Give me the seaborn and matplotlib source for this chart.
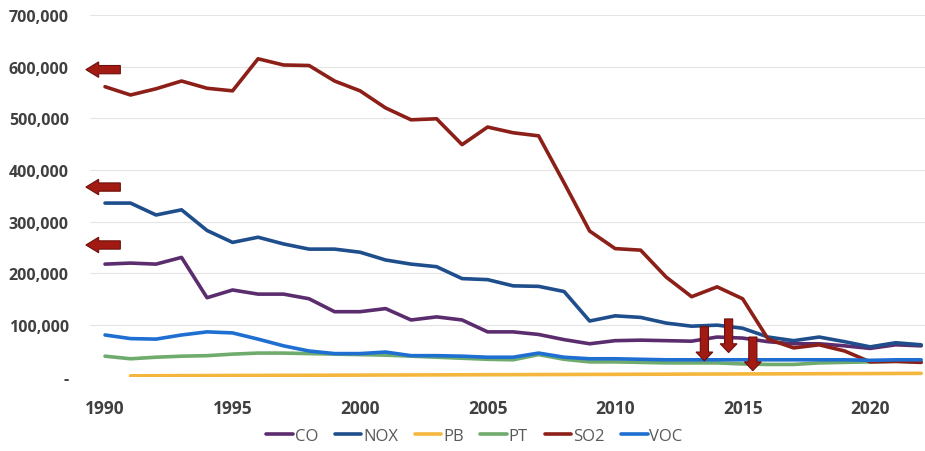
import numpy as np
import pandas as pd
import seaborn as sns
import matplotlib.pyplot as plt
from matplotlib.patches import FancyArrow
from matplotlib.ticker import FuncFormatter

years = list(range(1990, 2023))

co = [218000, 220000, 218000, 231000, 153000, 168000, 160000, 160000, 151000, 126000,
      126000, 132000, 110000, 116000, 110000, 87000, 87000, 82000, 72000, 64000,
      70000, 71000, 70000, 69000, 77000, 75000, 68000, 64000, 64000, 60000,
      55000, 62000, 60000]
nox = [336000, 336000, 313000, 323000, 283000, 260000, 270000, 257000, 247000, 247000,
       241000, 226000, 218000, 213000, 190000, 188000, 176000, 175000, 165000, 108000,
       118000, 115000, 104000, 98000, 100000, 94000, 77000, 70000, 77000, 68000,
       58000, 66000, 62000]
pb = [np.nan, 2000, 2200, 2400, 2500, 2700, 2800, 3000, 3100, 3300,
      3400, 3600, 3700, 3900, 4000, 4200, 4300, 4500, 4600, 4800,
      4900, 5100, 5200, 5400, 5500, 5700, 5800, 6000, 6100, 6300,
      6400, 6600, 6800]
pt = [40000, 35000, 38000, 40000, 41000, 44000, 46000, 46000, 45000, 44000,
      43000, 42000, 40000, 38000, 36000, 34000, 33000, 43000, 34000, 29000,
      29000, 28000, 27000, 27000, 27000, 25000, 24000, 24000, 27000, 28000,
      29000, 30000, 29000]
so2 = [561000, 545000, 557000, 572000, 558000, 553000, 615000, 603000, 602000, 572000,
       553000, 520000, 497000, 499000, 449000, 483000, 472000, 466000, 375000, 282000,
       248000, 245000, 193000, 155000, 174000, 151000, 73000, 56000, 62000, 50000,
       29000, 30000, 28000]
voc = [81000, 74000, 73000, 81000, 87000, 85000, 73000, 60000, 50000, 45000,
       45000, 48000, 41000, 41000, 40000, 38000, 38000, 46000, 38000, 35000,
       35000, 34000, 33000, 33000, 33000, 33000, 33000, 33000, 33000, 33000,
       32000, 33000, 33000]

series = {'CO': co, 'NOX': nox, 'PB': pb, 'PT': pt, 'SO2': so2, 'VOC': voc}
colors = {'CO': '#5c2d6e', 'NOX': '#1f4e8c', 'PB': '#f4b63c',
          'PT': '#6fab6c', 'SO2': '#8c1f17', 'VOC': '#1f6fd2'}

rows = []
for name, vals in series.items():
    for y, v in zip(years, vals):
        rows.append({'year': y, 'value': v, 'pollutant': name})
df = pd.DataFrame(rows).dropna()

sns.set_theme(style="white")
plt.rcParams['font.family'] = ['Open Sans', 'DejaVu Sans']

fig = plt.figure(figsize=(9.25, 4.52), dpi=100)
ax = fig.add_axes([0.097, 0.164, 0.903, 0.801])

sns.lineplot(data=df, x='year', y='value', hue='pollutant', palette=colors,
             linewidth=2.6, ax=ax, hue_order=list(series.keys()))

ax.set_xlim(1989.4, 2022.15)
ax.set_ylim(0, 700000)
ax.set_yticks(range(0, 700001, 100000))
ax.set_xticks(range(1990, 2021, 5))
ax.yaxis.set_major_formatter(FuncFormatter(lambda v, p: '-' if v == 0 else f'{int(v):,}'))
ax.grid(axis='y', color='#e4e4e4', linewidth=0.8)
ax.set_axisbelow(True)
for s in ax.spines.values():
    s.set_visible(False)
ax.set_xlabel('')
ax.set_ylabel('')
ax.tick_params(axis='y', labelsize=11.5, labelcolor='#404040', pad=15, length=0)
ax.tick_params(axis='x', labelsize=12.5, labelcolor='#404040', pad=16, length=0)
for lbl in ax.get_xticklabels() + ax.get_yticklabels():
    lbl.set_fontweight('bold')

# annotation arrows
arrow_kw = dict(color='#a11b12', ec='#6e0f0a', lw=0.8, length_includes_head=True,
                clip_on=False, zorder=5)
for yv in [594000, 367000, 255000]:
    ax.add_patch(FancyArrow(1990.6, yv, -1.35, 0, width=16000, head_width=30000,
                            head_length=0.5, **arrow_kw))
for xv, y0, y1 in [(2013.5, 97000, 31000), (2014.45, 112000, 47000), (2015.4, 77000, 12000)]:
    ax.add_patch(FancyArrow(xv, y0, 0, y1 - y0, width=0.32, head_width=0.66,
                            head_length=17000, **arrow_kw))

ax.get_legend().remove()
handles, labels = ax.get_legend_handles_labels()
leg = fig.legend(handles, labels, loc='center', bbox_to_anchor=(0.513, 0.033), ncol=6,
                 frameon=False, fontsize=12, handlelength=1.6, handletextpad=0.1,
                 columnspacing=1.0, borderpad=0.1)
for t in leg.get_texts():
    t.set_color('#595959')
for h in leg.get_lines():
    h.set_linewidth(2.6)

fig.savefig('out.png', dpi=100)
